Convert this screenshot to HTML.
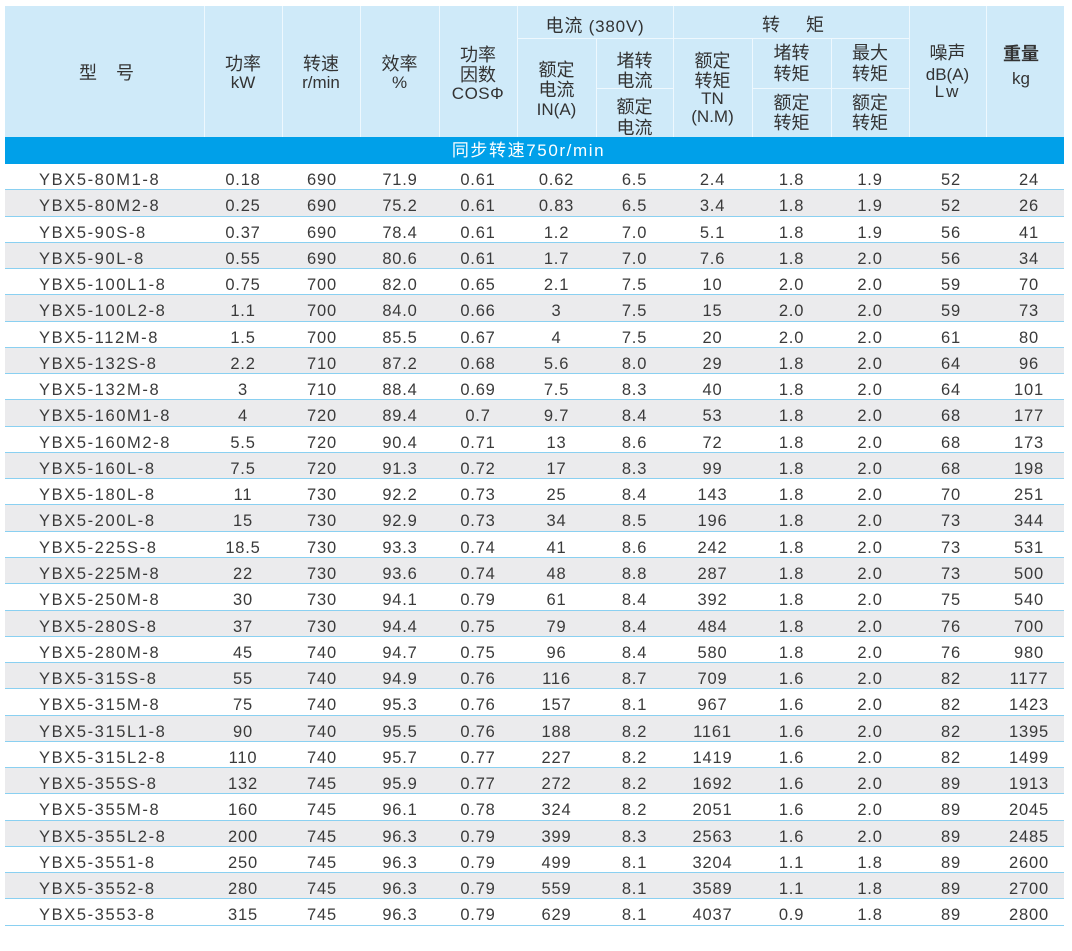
<!DOCTYPE html>
<html><head><meta charset="utf-8">
<style>
html,body{margin:0;padding:0;background:#fff;}
body{width:1072px;height:951px;position:relative;overflow:hidden;font-family:"Liberation Sans","Noto Sans CJK SC",sans-serif;color:#383838;}
.hd{position:absolute;left:5px;top:6px;width:1059px;height:131px;background:#cfeaf9;}
.vl{position:absolute;width:1px;background:#eef8fe;}
.hl{position:absolute;height:1px;background:#eef8fe;}
.t{position:absolute;height:20px;line-height:20px;font-size:17px;text-align:center;white-space:nowrap;color:#333;}
.c{font-size:18px;}
.band{position:absolute;left:5px;top:137px;width:1059px;height:27px;background:#00a0e9;}
.bt{position:absolute;left:0;top:0;width:1059px;height:27px;line-height:27px;text-align:center;color:#fff;font-size:17px;letter-spacing:1.6px;margin-left:-6px;}
.rows{position:absolute;left:5px;top:164px;width:1059px;}
.r{height:26.276px;box-sizing:border-box;border-bottom:1px solid #8ad0f1;display:flex;font-size:16.5px;line-height:24px;padding-top:4px;letter-spacing:0.8px;color:#3a3a3a;overflow:visible;}
.g{background:#ebebed;}
.r span{display:block;text-align:center;flex:none;height:20px;}
.r span.m{width:165px;padding-left:34px;text-align:left;letter-spacing:1.6px;}
.r span:nth-child(2){width:78px}
.r span:nth-child(3){width:78px;padding-left:2px;box-sizing:border-box}
.r span:nth-child(4){width:79px;padding-left:1px;box-sizing:border-box}
.r span:nth-child(5){width:78px}
.r span:nth-child(6){width:79px}
.r span:nth-child(7){width:77px}
.r span:nth-child(8){width:79px}
.r span:nth-child(9){width:79px}
.r span:nth-child(10){width:78px}
.r span:nth-child(11){width:77px;padding-left:7px;box-sizing:border-box}
.r span:nth-child(12){width:78px;padding-left:8px;box-sizing:border-box}
</style></head><body>
<div class="hd"></div>
<div class="vl" style="left:204px;top:6px;height:131px"></div>
<div class="vl" style="left:282px;top:6px;height:131px"></div>
<div class="vl" style="left:360px;top:6px;height:131px"></div>
<div class="vl" style="left:439px;top:6px;height:131px"></div>
<div class="vl" style="left:517px;top:6px;height:131px"></div>
<div class="vl" style="left:596px;top:38px;height:99px"></div>
<div class="vl" style="left:673px;top:6px;height:131px"></div>
<div class="vl" style="left:752px;top:38px;height:99px"></div>
<div class="vl" style="left:831px;top:38px;height:99px"></div>
<div class="vl" style="left:909px;top:6px;height:131px"></div>
<div class="vl" style="left:986px;top:6px;height:131px"></div>
<div class="hl" style="left:517px;top:38px;width:392px"></div>
<div class="hl" style="left:596px;top:88px;width:77px"></div>
<div class="hl" style="left:752px;top:88px;width:157px"></div>

<div class="t c" style="left:77px;top:63px;width:22px">型</div>
<div class="t c" style="left:114px;top:63px;width:22px">号</div>

<div class="t c" style="left:204px;top:54px;width:78px">功率</div>
<div class="t" style="left:204px;top:73px;width:78px">kW</div>
<div class="t c" style="left:282px;top:54px;width:78px">转速</div>
<div class="t" style="left:282px;top:73px;width:78px">r/min</div>
<div class="t c" style="left:360px;top:54px;width:79px">效率</div>
<div class="t" style="left:360px;top:73px;width:79px">%</div>
<div class="t c" style="left:439px;top:45px;width:78px">功率</div>
<div class="t c" style="left:439px;top:65px;width:78px">因数</div>
<div class="t" style="left:439px;top:84px;width:78px;letter-spacing:0.5px">COSΦ</div>

<div class="t" style="left:517px;top:16px;width:156px;letter-spacing:0.8px"><span class="c">电流</span> (380V)</div>
<div class="t c" style="left:517px;top:60px;width:79px">额定</div>
<div class="t c" style="left:517px;top:80px;width:79px">电流</div>
<div class="t" style="left:517px;top:100px;width:79px">IN(A)</div>
<div class="t c" style="left:596px;top:51px;width:77px">堵转</div>
<div class="t c" style="left:596px;top:71px;width:77px">电流</div>
<div class="t c" style="left:596px;top:97px;width:77px">额定</div>
<div class="t c" style="left:596px;top:118px;width:77px">电流</div>

<div class="t c" style="left:760px;top:15px;width:22px">转</div>
<div class="t c" style="left:804px;top:15px;width:22px">矩</div>
<div class="t c" style="left:673px;top:51px;width:79px">额定</div>
<div class="t c" style="left:673px;top:71px;width:79px">转矩</div>
<div class="t" style="left:673px;top:89px;width:79px">TN</div>
<div class="t" style="left:673px;top:107px;width:79px">(N.M)</div>
<div class="t c" style="left:752px;top:43px;width:79px">堵转</div>
<div class="t c" style="left:752px;top:64px;width:79px">转矩</div>
<div class="t c" style="left:752px;top:93px;width:79px">额定</div>
<div class="t c" style="left:752px;top:113px;width:79px">转矩</div>
<div class="t c" style="left:831px;top:43px;width:78px">最大</div>
<div class="t c" style="left:831px;top:64px;width:78px">转矩</div>
<div class="t c" style="left:831px;top:93px;width:78px">额定</div>
<div class="t c" style="left:831px;top:113px;width:78px">转矩</div>

<div class="t c" style="left:909px;top:43px;width:77px">噪声</div>
<div class="t" style="left:909px;top:65px;width:77px">dB(A)</div>
<div class="t" style="left:909px;top:82px;width:77px;letter-spacing:2px">Lw</div>
<div class="t c" style="left:982px;top:44px;width:78px;font-weight:bold">重量</div>
<div class="t" style="left:982px;top:69px;width:78px">kg</div>

<div class="band"><div class="bt">同步转速750r/min</div></div>

<div class="rows">
<div class="r"><span class="m">YBX5-80M1-8</span><span>0.18</span><span>690</span><span>71.9</span><span>0.61</span><span>0.62</span><span>6.5</span><span>2.4</span><span>1.8</span><span>1.9</span><span>52</span><span>24</span></div>
<div class="r g"><span class="m">YBX5-80M2-8</span><span>0.25</span><span>690</span><span>75.2</span><span>0.61</span><span>0.83</span><span>6.5</span><span>3.4</span><span>1.8</span><span>1.9</span><span>52</span><span>26</span></div>
<div class="r"><span class="m">YBX5-90S-8</span><span>0.37</span><span>690</span><span>78.4</span><span>0.61</span><span>1.2</span><span>7.0</span><span>5.1</span><span>1.8</span><span>1.9</span><span>56</span><span>41</span></div>
<div class="r g"><span class="m">YBX5-90L-8</span><span>0.55</span><span>690</span><span>80.6</span><span>0.61</span><span>1.7</span><span>7.0</span><span>7.6</span><span>1.8</span><span>2.0</span><span>56</span><span>34</span></div>
<div class="r"><span class="m">YBX5-100L1-8</span><span>0.75</span><span>700</span><span>82.0</span><span>0.65</span><span>2.1</span><span>7.5</span><span>10</span><span>2.0</span><span>2.0</span><span>59</span><span>70</span></div>
<div class="r g"><span class="m">YBX5-100L2-8</span><span>1.1</span><span>700</span><span>84.0</span><span>0.66</span><span>3</span><span>7.5</span><span>15</span><span>2.0</span><span>2.0</span><span>59</span><span>73</span></div>
<div class="r"><span class="m">YBX5-112M-8</span><span>1.5</span><span>700</span><span>85.5</span><span>0.67</span><span>4</span><span>7.5</span><span>20</span><span>2.0</span><span>2.0</span><span>61</span><span>80</span></div>
<div class="r g"><span class="m">YBX5-132S-8</span><span>2.2</span><span>710</span><span>87.2</span><span>0.68</span><span>5.6</span><span>8.0</span><span>29</span><span>1.8</span><span>2.0</span><span>64</span><span>96</span></div>
<div class="r"><span class="m">YBX5-132M-8</span><span>3</span><span>710</span><span>88.4</span><span>0.69</span><span>7.5</span><span>8.3</span><span>40</span><span>1.8</span><span>2.0</span><span>64</span><span>101</span></div>
<div class="r g"><span class="m">YBX5-160M1-8</span><span>4</span><span>720</span><span>89.4</span><span>0.7</span><span>9.7</span><span>8.4</span><span>53</span><span>1.8</span><span>2.0</span><span>68</span><span>177</span></div>
<div class="r"><span class="m">YBX5-160M2-8</span><span>5.5</span><span>720</span><span>90.4</span><span>0.71</span><span>13</span><span>8.6</span><span>72</span><span>1.8</span><span>2.0</span><span>68</span><span>173</span></div>
<div class="r g"><span class="m">YBX5-160L-8</span><span>7.5</span><span>720</span><span>91.3</span><span>0.72</span><span>17</span><span>8.3</span><span>99</span><span>1.8</span><span>2.0</span><span>68</span><span>198</span></div>
<div class="r"><span class="m">YBX5-180L-8</span><span>11</span><span>730</span><span>92.2</span><span>0.73</span><span>25</span><span>8.4</span><span>143</span><span>1.8</span><span>2.0</span><span>70</span><span>251</span></div>
<div class="r g"><span class="m">YBX5-200L-8</span><span>15</span><span>730</span><span>92.9</span><span>0.73</span><span>34</span><span>8.5</span><span>196</span><span>1.8</span><span>2.0</span><span>73</span><span>344</span></div>
<div class="r"><span class="m">YBX5-225S-8</span><span>18.5</span><span>730</span><span>93.3</span><span>0.74</span><span>41</span><span>8.6</span><span>242</span><span>1.8</span><span>2.0</span><span>73</span><span>531</span></div>
<div class="r g"><span class="m">YBX5-225M-8</span><span>22</span><span>730</span><span>93.6</span><span>0.74</span><span>48</span><span>8.8</span><span>287</span><span>1.8</span><span>2.0</span><span>73</span><span>500</span></div>
<div class="r"><span class="m">YBX5-250M-8</span><span>30</span><span>730</span><span>94.1</span><span>0.79</span><span>61</span><span>8.4</span><span>392</span><span>1.8</span><span>2.0</span><span>75</span><span>540</span></div>
<div class="r g"><span class="m">YBX5-280S-8</span><span>37</span><span>730</span><span>94.4</span><span>0.75</span><span>79</span><span>8.4</span><span>484</span><span>1.8</span><span>2.0</span><span>76</span><span>700</span></div>
<div class="r"><span class="m">YBX5-280M-8</span><span>45</span><span>740</span><span>94.7</span><span>0.75</span><span>96</span><span>8.4</span><span>580</span><span>1.8</span><span>2.0</span><span>76</span><span>980</span></div>
<div class="r g"><span class="m">YBX5-315S-8</span><span>55</span><span>740</span><span>94.9</span><span>0.76</span><span>116</span><span>8.7</span><span>709</span><span>1.6</span><span>2.0</span><span>82</span><span>1177</span></div>
<div class="r"><span class="m">YBX5-315M-8</span><span>75</span><span>740</span><span>95.3</span><span>0.76</span><span>157</span><span>8.1</span><span>967</span><span>1.6</span><span>2.0</span><span>82</span><span>1423</span></div>
<div class="r g"><span class="m">YBX5-315L1-8</span><span>90</span><span>740</span><span>95.5</span><span>0.76</span><span>188</span><span>8.2</span><span>1161</span><span>1.6</span><span>2.0</span><span>82</span><span>1395</span></div>
<div class="r"><span class="m">YBX5-315L2-8</span><span>110</span><span>740</span><span>95.7</span><span>0.77</span><span>227</span><span>8.2</span><span>1419</span><span>1.6</span><span>2.0</span><span>82</span><span>1499</span></div>
<div class="r g"><span class="m">YBX5-355S-8</span><span>132</span><span>745</span><span>95.9</span><span>0.77</span><span>272</span><span>8.2</span><span>1692</span><span>1.6</span><span>2.0</span><span>89</span><span>1913</span></div>
<div class="r"><span class="m">YBX5-355M-8</span><span>160</span><span>745</span><span>96.1</span><span>0.78</span><span>324</span><span>8.2</span><span>2051</span><span>1.6</span><span>2.0</span><span>89</span><span>2045</span></div>
<div class="r g"><span class="m">YBX5-355L2-8</span><span>200</span><span>745</span><span>96.3</span><span>0.79</span><span>399</span><span>8.3</span><span>2563</span><span>1.6</span><span>2.0</span><span>89</span><span>2485</span></div>
<div class="r"><span class="m">YBX5-3551-8</span><span>250</span><span>745</span><span>96.3</span><span>0.79</span><span>499</span><span>8.1</span><span>3204</span><span>1.1</span><span>1.8</span><span>89</span><span>2600</span></div>
<div class="r g"><span class="m">YBX5-3552-8</span><span>280</span><span>745</span><span>96.3</span><span>0.79</span><span>559</span><span>8.1</span><span>3589</span><span>1.1</span><span>1.8</span><span>89</span><span>2700</span></div>
<div class="r"><span class="m">YBX5-3553-8</span><span>315</span><span>745</span><span>96.3</span><span>0.79</span><span>629</span><span>8.1</span><span>4037</span><span>0.9</span><span>1.8</span><span>89</span><span>2800</span></div>
</div>
</body></html>
